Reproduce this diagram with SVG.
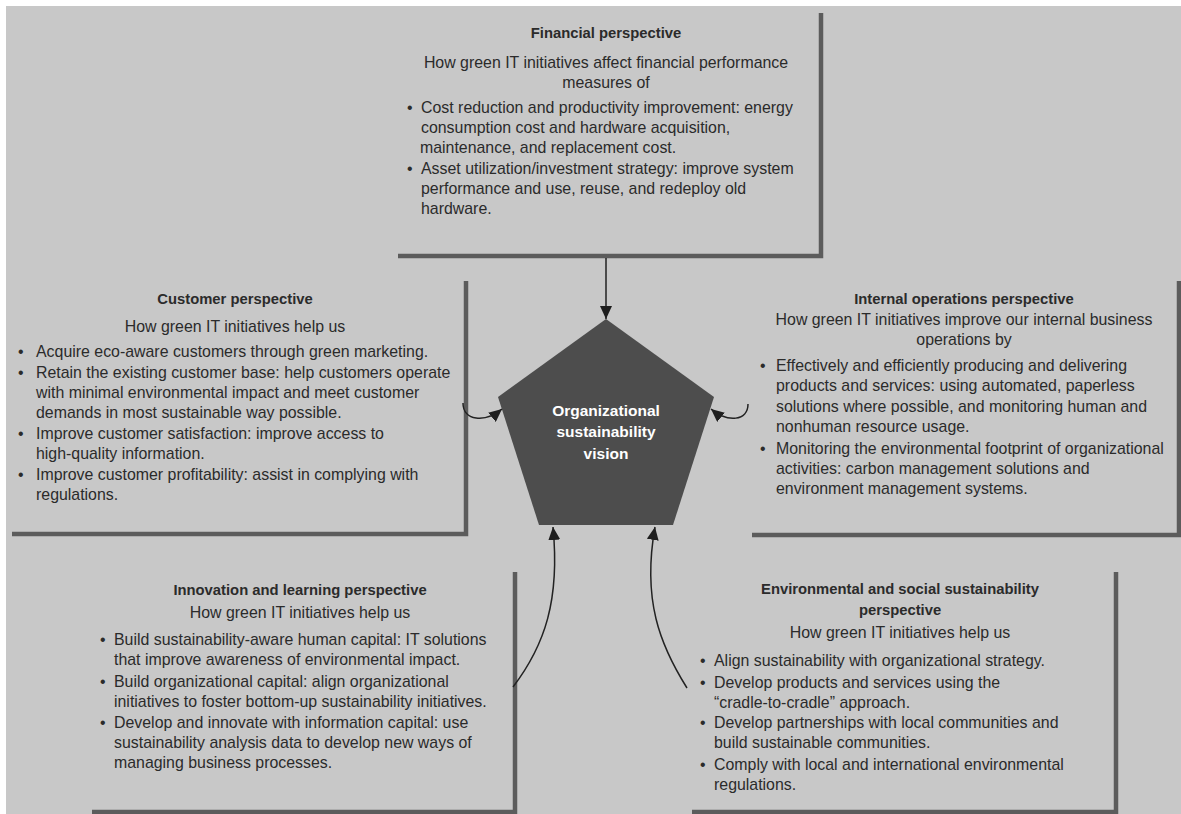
<svg xmlns="http://www.w3.org/2000/svg" width="1181" height="814" viewBox="0 0 1181 814">
<style>
text{font-family:"Liberation Sans",Arial,sans-serif;fill:#2b2b2b}
.t{font-size:14.8px;font-weight:bold;text-anchor:middle}
.s{font-size:15.9px;text-anchor:middle}
.b{font-size:15.9px}
.frame{fill:none;stroke:#5c5c5c;stroke-width:4.5}
.conn{fill:none;stroke:#222;stroke-width:1.5}
.pv{font-size:15.5px;font-weight:bold;fill:#fff;text-anchor:middle}
</style>
<defs>
<marker id="ah" markerUnits="userSpaceOnUse" markerWidth="14" markerHeight="12" refX="13" refY="6" orient="auto">
<path d="M0,0 L13,6 L0,12 z" fill="#1e1e1e"/>
</marker>
</defs>
<rect x="0" y="0" width="1181" height="814" fill="#ffffff"/>
<rect x="6" y="6" width="1175" height="808" fill="#c8c8c8"/>

<g id="financial">
<path class="frame" d="M398,256 H821 V13"/>
<text class="t" x="606" y="38">Financial perspective</text>
<text class="s" x="606" y="68">How green IT initiatives affect financial performance</text>
<text class="s" x="606" y="88">measures of</text>
<text class="b" x="407" y="113">•</text>
<text class="b" x="421" y="113">Cost reduction and productivity improvement: energy</text>
<text class="b" x="421" y="133">consumption cost and hardware acquisition,</text>
<text class="b" x="420" y="153">maintenance, and replacement cost.</text>
<text class="b" x="407" y="174">•</text>
<text class="b" x="421" y="174">Asset utilization/investment strategy: improve system</text>
<text class="b" x="421" y="194">performance and use, reuse, and redeploy old</text>
<text class="b" x="421" y="214">hardware.</text>
</g>

<g id="customer">
<path class="frame" d="M12,534 H466 V281"/>
<text class="t" x="235" y="304">Customer perspective</text>
<text class="s" x="235" y="332">How green IT initiatives help us</text>
<text class="b" x="18" y="357">•</text>
<text class="b" x="36" y="357">Acquire eco-aware customers through green marketing.</text>
<text class="b" x="18" y="378">•</text>
<text class="b" x="36" y="378">Retain the existing customer base: help customers operate</text>
<text class="b" x="36" y="398">with minimal environmental impact and meet customer</text>
<text class="b" x="36" y="418">demands in most sustainable way possible.</text>
<text class="b" x="18" y="439">•</text>
<text class="b" x="36" y="439">Improve customer satisfaction: improve access to</text>
<text class="b" x="36" y="459">high-quality information.</text>
<text class="b" x="18" y="480">•</text>
<text class="b" x="36" y="480">Improve customer profitability: assist in complying with</text>
<text class="b" x="36" y="500">regulations.</text>
</g>

<g id="internal">
<path class="frame" d="M752,535 H1179 V281"/>
<text class="t" x="964" y="304">Internal operations perspective</text>
<text class="s" x="964" y="325">How green IT initiatives improve our internal business</text>
<text class="s" x="964" y="345">operations by</text>
<text class="b" x="760" y="371">•</text>
<text class="b" x="776" y="371">Effectively and efficiently producing and delivering</text>
<text class="b" x="776" y="391">products and services: using automated, paperless</text>
<text class="b" x="776" y="412">solutions where possible, and monitoring human and</text>
<text class="b" x="776" y="432">nonhuman resource usage.</text>
<text class="b" x="760" y="454">•</text>
<text class="b" x="776" y="454">Monitoring the environmental footprint of organizational</text>
<text class="b" x="776" y="474">activities: carbon management solutions and</text>
<text class="b" x="776" y="494">environment management systems.</text>
</g>

<g id="innovation">
<path class="frame" d="M92,812 H515 V572"/>
<text class="t" x="300" y="595">Innovation and learning perspective</text>
<text class="s" x="300" y="618">How green IT initiatives help us</text>
<text class="b" x="100" y="645">•</text>
<text class="b" x="114" y="645">Build sustainability-aware human capital: IT solutions</text>
<text class="b" x="114" y="665">that improve awareness of environmental impact.</text>
<text class="b" x="100" y="687">•</text>
<text class="b" x="114" y="687">Build organizational capital: align organizational</text>
<text class="b" x="114" y="707">initiatives to foster bottom-up sustainability initiatives.</text>
<text class="b" x="100" y="728">•</text>
<text class="b" x="114" y="728">Develop and innovate with information capital: use</text>
<text class="b" x="114" y="748">sustainability analysis data to develop new ways of</text>
<text class="b" x="114" y="768">managing business processes.</text>
</g>

<g id="environmental">
<path class="frame" d="M692,812 H1116 V572"/>
<text class="t" x="900" y="594">Environmental and social sustainability</text>
<text class="t" x="900" y="615">perspective</text>
<text class="s" x="900" y="638">How green IT initiatives help us</text>
<text class="b" x="700" y="666">•</text>
<text class="b" x="714" y="666">Align sustainability with organizational strategy.</text>
<text class="b" x="700" y="688">•</text>
<text class="b" x="714" y="688">Develop products and services using the</text>
<text class="b" x="714" y="708">“cradle-to-cradle” approach.</text>
<text class="b" x="700" y="728">•</text>
<text class="b" x="714" y="728">Develop partnerships with local communities and</text>
<text class="b" x="714" y="748">build sustainable communities.</text>
<text class="b" x="700" y="770">•</text>
<text class="b" x="714" y="770">Comply with local and international environmental</text>
<text class="b" x="714" y="790">regulations.</text>
</g>

<g id="vision">
<polygon points="606,319 714,397 673,525 539,525 498,397" fill="#4d4d4d"/>
<text class="pv" x="606" y="416">Organizational</text>
<text class="pv" x="606" y="437">sustainability</text>
<text class="pv" x="606" y="459">vision</text>
</g>

<g id="connectors">
<path class="conn" d="M606,258 V319" marker-end="url(#ah)"/>
<path class="conn" d="M463,403 C463,421 485,423 502,409" marker-end="url(#ah)"/>
<path class="conn" d="M748,404 C748,421 728,423 711,409" marker-end="url(#ah)"/>
<path class="conn" d="M513,687 C545,645 560,600 553,527" marker-end="url(#ah)"/>
<path class="conn" d="M687,688 C660,645 642,600 655,527" marker-end="url(#ah)"/>
</g>
</svg>
